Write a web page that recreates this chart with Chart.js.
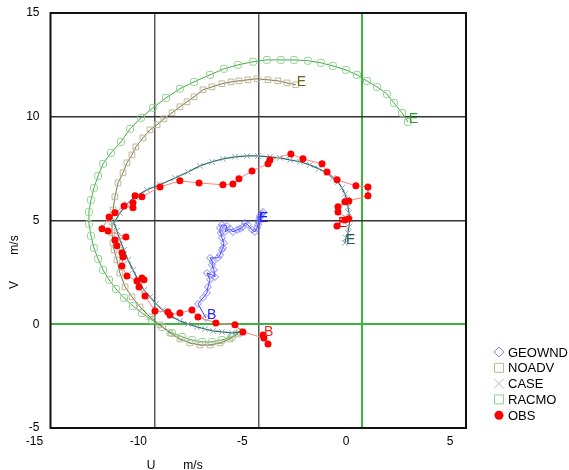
<!DOCTYPE html>
<html>
<head>
<meta charset="utf-8">
<script src="https://cdn.jsdelivr.net/npm/chart.js@4"></script>
<style>
  html, body { margin: 0; padding: 0; background: #fff; }
  #wrap { width: 569px; height: 470px; }
</style>
</head>
<body>
<div id="wrap"><canvas id="hodo" width="569" height="470"></canvas></div>
<script>
// wind components U, V (m/s)

const geoU = [-7.52, -7.90, -7.66, -7.47, -7.42, -7.32, -7.47, -7.23, -7.08, -7.13, -7.23, -7.18, -7.32, -6.94, -6.84, -6.75, -6.70, -6.65, -6.75, -6.80, -6.84, -6.75, -6.51, -6.60, -6.36, -6.22, -6.02, -5.88, -5.74, -5.64, -5.50, -5.30, -5.16, -5.06, -5.01, -4.97, -4.92, -4.82, -4.77, -4.92, -5.01];
const geoV = [0.30, 0.98, 1.27, 1.51, 1.80, 2.14, 2.47, 2.38, 2.28, 2.62, 2.86, 3.00, 3.20, 3.20, 3.34, 3.58, 3.68, 3.92, 4.16, 4.40, 4.64, 4.79, 4.74, 4.45, 4.60, 4.45, 4.55, 4.60, 4.69, 4.88, 4.79, 4.55, 4.45, 4.64, 4.79, 4.93, 5.13, 5.32, 5.41, 5.22, 4.98];

const noadvU = [-5.98, -6.36, -6.84, -7.32, -7.81, -8.29, -8.77, -9.25, -9.73, -10.21, -10.69, -11.08, -11.41, -11.66, -11.80, -11.94, -11.99, -12.04, -12.04, -11.99, -11.90, -11.75, -11.51, -11.32, -11.08, -10.89, -10.55, -10.21, -9.87, -9.54, -9.15, -8.77, -8.43, -8.09, -7.66, -7.23, -6.75, -6.31, -5.93, -5.50, -5.06, -4.53, -4.05, -3.62, -3.19];
const noadvV = [-0.47, -0.71, -0.90, -1.00, -1.00, -0.90, -0.71, -0.42, -0.03, 0.35, 0.83, 1.32, 1.80, 2.47, 3.10, 3.58, 3.92, 4.40, 4.93, 5.51, 6.14, 6.81, 7.30, 7.78, 8.16, 8.55, 8.98, 9.37, 9.61, 9.90, 10.19, 10.48, 10.72, 10.96, 11.30, 11.44, 11.59, 11.68, 11.73, 11.78, 11.83, 11.78, 11.73, 11.63, 11.54];

const caseU = [-5.78, -6.27, -6.75, -7.18, -7.56, -7.95, -8.38, -8.77, -9.20, -9.59, -9.92, -10.21, -10.50, -10.79, -11.03, -11.27, -11.46, -11.66, -11.80, -11.94, -11.66, -11.32, -10.93, -10.36, -9.73, -9.01, -8.38, -7.81, -7.23, -6.70, -6.12, -5.54, -5.01, -4.44, -3.96, -3.47, -2.99, -2.51, -2.08, -1.69, -1.41, -1.16, -0.97, -0.83, -0.73, -0.68, -0.64, -0.59, -0.64, -0.68, -0.78, -0.83];
const caseV = [-0.37, -0.42, -0.37, -0.32, -0.23, -0.13, 0.01, 0.16, 0.40, 0.69, 0.98, 1.32, 1.65, 2.14, 2.62, 3.10, 3.58, 4.06, 4.50, 4.88, 5.37, 5.80, 6.14, 6.48, 6.72, 7.05, 7.34, 7.63, 7.83, 7.97, 8.07, 8.11, 8.11, 8.07, 8.02, 7.92, 7.83, 7.68, 7.49, 7.30, 7.05, 6.86, 6.57, 6.28, 5.99, 5.66, 5.37, 5.03, 4.69, 4.40, 4.16, 3.92];

const racmoU = [-5.88, -6.27, -6.75, -7.23, -7.71, -8.19, -8.67, -9.15, -9.63, -10.12, -10.60, -11.03, -11.46, -11.85, -12.18, -12.47, -12.71, -12.91, -13.05, -13.15, -13.15, -13.05, -12.91, -12.71, -12.47, -12.09, -11.61, -11.17, -10.64, -10.07, -9.44, -8.77, -8.09, -7.32, -6.65, -5.98, -5.25, -4.58, -3.91, -3.28, -2.61, -1.98, -1.41, -0.78, -0.25, 0.23, 0.71, 1.19, 1.53, 1.92, 2.20];
const racmoV = [-0.37, -0.61, -0.76, -0.85, -0.85, -0.76, -0.61, -0.42, -0.13, 0.21, 0.54, 0.88, 1.27, 1.70, 2.14, 2.62, 3.15, 3.68, 4.26, 4.84, 5.41, 5.99, 6.57, 7.15, 7.73, 8.26, 8.79, 9.42, 9.95, 10.43, 10.91, 11.35, 11.68, 12.02, 12.31, 12.50, 12.65, 12.74, 12.74, 12.74, 12.70, 12.60, 12.45, 12.26, 12.02, 11.73, 11.44, 11.10, 10.67, 10.19, 9.75];

const obsU = [-4.77, -4.53, -4.73, -5.74, -6.12, -7.04, -7.90, -8.19, -8.77, -9.25, -9.35, -9.97, -10.45, -10.74, -10.50, -10.60, -10.84, -11.32, -11.56, -11.51, -11.56, -11.80, -11.90, -11.37, -12.23, -12.52, -12.18, -11.90, -11.46, -11.03, -11.03, -10.93, -10.60, -9.73, -8.77, -7.85, -6.70, -6.22, -5.93, -5.30, -4.53, -4.44, -3.43, -2.85, -1.93, -1.69, -1.21, -0.30, 0.28, 0.28, -0.83, -0.64, -1.16, -1.16, -0.64, -0.83, -1.21];
const obsV = [-0.52, -0.95, -0.66, -0.37, -0.03, 0.06, 0.35, 0.69, 0.54, 0.45, 0.59, 0.64, 1.36, 1.80, 2.14, 2.23, 2.09, 2.33, 2.81, 3.24, 3.44, 3.78, 4.06, 4.21, 4.50, 4.60, 5.17, 5.37, 5.70, 5.61, 5.85, 6.19, 6.14, 6.62, 6.91, 6.81, 6.72, 6.76, 7.01, 7.39, 7.73, 7.92, 8.21, 7.97, 7.73, 7.34, 6.96, 6.67, 6.62, 6.19, 5.90, 5.94, 5.66, 5.41, 5.08, 5.03, 4.74];

const seriesNames = ['GEOWND', 'NOADV', 'CASE', 'RACMO', 'OBS'];
const xTicks = [-15, -10, -5, 0, 5];
const yTicks = [-5, 0, 5, 10, 15];

const FONT = "'Liberation Sans', Arial, Helvetica, sans-serif";

function pts(u, v) {
  return u.map((x, i) => ({ x: x, y: v[i] }));
}

// begin / end tags next to the tracks
const tags = [
  { ds: 0, text: 'B', at: 'first', color: '#2424ff' },
  { ds: 0, text: 'E', at: 'last', color: '#1a1aff' },
  { ds: 1, text: 'E', at: 'last', color: '#6b6420' },
  { ds: 2, text: 'E', at: 'last', color: '#1f5a50' },
  { ds: 3, text: 'E', at: 'last', color: '#2ea02e' },
  { ds: 4, text: 'B', at: 'first', color: '#ff2020' },
  { ds: 4, text: 'E', at: 'last', color: '#ff0000' }
];

const legendItems = [
  { label: 'GEOWND', mark: 'diamond', color: '#8080ff' },
  { label: 'NOADV', mark: 'square', color: '#bdb89a' },
  { label: 'CASE', mark: 'cross', color: '#a8bec6' },
  { label: 'RACMO', mark: 'square', color: '#90d090' },
  { label: 'OBS', mark: 'dot', color: '#ff0000' }
];

const decor = {
  id: 'decor',
  afterDatasetsDraw(chart) {
    const ctx = chart.ctx;
    ctx.save();
    ctx.font = '14px ' + FONT;
    ctx.textAlign = 'left';
    ctx.textBaseline = 'alphabetic';
    tags.forEach(t => {
      const meta = chart.getDatasetMeta(t.ds);
      const el = t.at === 'first' ? meta.data[0] : meta.data[meta.data.length - 1];
      ctx.fillStyle = t.color;
      ctx.fillText(t.text, el.x + 1, el.y + 1);
    });
    ctx.restore();
  },
  afterDraw(chart) {
    const ctx = chart.ctx;
    const a = chart.chartArea;
    ctx.save();
    // frame
    ctx.strokeStyle = '#111';
    ctx.lineWidth = 2;
    ctx.strokeRect(a.left, a.top, a.right - a.left, a.bottom - a.top);

    // axis titles
    ctx.fillStyle = '#000';
    ctx.font = '12px ' + FONT;
    ctx.textAlign = 'center';
    ctx.textBaseline = 'middle';
    ctx.fillText('U', 151, 466);
    ctx.fillText('m/s', 193, 466);
    ctx.save();
    ctx.translate(15, 265);
    ctx.rotate(-Math.PI / 2);
    ctx.fillText('V', -20, 0);
    ctx.fillText('m/s', 20, 0);
    ctx.restore();

    // legend
    ctx.font = '13px ' + FONT;
    ctx.textAlign = 'left';
    legendItems.forEach((it, i) => {
      const x = 499, y = 352 + i * 15.8;
      ctx.strokeStyle = it.color;
      ctx.fillStyle = it.color;
      ctx.lineWidth = 1;
      ctx.beginPath();
      if (it.mark === 'diamond') {
        ctx.moveTo(x, y - 5); ctx.lineTo(x + 5, y); ctx.lineTo(x, y + 5); ctx.lineTo(x - 5, y); ctx.closePath();
        ctx.stroke();
      } else if (it.mark === 'square') {
        ctx.rect(x - 4.5, y - 4.5, 9, 9);
        ctx.stroke();
      } else if (it.mark === 'cross') {
        ctx.moveTo(x - 5, y - 5); ctx.lineTo(x + 5, y + 5);
        ctx.moveTo(x + 5, y - 5); ctx.lineTo(x - 5, y + 5);
        ctx.stroke();
      } else {
        ctx.arc(x, y, 4.5, 0, Math.PI * 2);
        ctx.fill();
      }
      ctx.fillStyle = '#000';
      ctx.fillText(it.label, 508, y + 1);
    });
    ctx.restore();
  }
};

function gridColor(c, zeroColor, lineColor) {
  const v = c.tick && c.tick.value;
  if (v === 0) return zeroColor;
  if (c.index === 0 || c.index === c.scale.ticks.length - 1) return 'rgba(0,0,0,0)';
  return lineColor;
}

// keep the plot box where the reference has it
function noPad(s) {
  s.paddingTop = 0;
  s.paddingBottom = 0;
  s.paddingLeft = 0;
  s.paddingRight = 0;
}

new Chart(document.getElementById('hodo'), {
  type: 'scatter',
  data: {
    datasets: [
      {
        label: seriesNames[0], data: pts(geoU, geoV), order: 1,
        showLine: true, borderColor: '#3c3cff', borderWidth: 1,
        pointStyle: 'rectRot', pointRadius: 3.5, pointBorderWidth: 1,
        pointBorderColor: 'rgba(100,100,255,0.8)', pointBackgroundColor: 'rgba(255,255,255,0)'
      },
      {
        label: seriesNames[1], data: pts(noadvU, noadvV), order: 3,
        showLine: true, borderColor: '#77703f', borderWidth: 1,
        pointStyle: 'rect', pointRadius: 4, pointBorderWidth: 1,
        pointBorderColor: '#bdb89a', pointBackgroundColor: 'rgba(255,255,255,0)'
      },
      {
        label: seriesNames[2], data: pts(caseU, caseV), order: 2,
        showLine: true, borderColor: '#2e6b6b', borderWidth: 1.2,
        pointStyle: 'crossRot', pointRadius: 4, pointBorderWidth: 1,
        pointBorderColor: '#88a8b2', pointBackgroundColor: 'rgba(255,255,255,0)'
      },
      {
        label: seriesNames[3], data: pts(racmoU, racmoV), order: 4,
        showLine: true, borderColor: '#3fae3f', borderWidth: 1,
        pointStyle: 'rectRounded', pointRadius: 4, pointBorderWidth: 1,
        pointBorderColor: '#90d090', pointBackgroundColor: 'rgba(255,255,255,0)'
      },
      {
        label: seriesNames[4], data: pts(obsU, obsV), order: 0,
        showLine: true, borderColor: '#ff8080', borderWidth: 1,
        pointStyle: 'circle', pointRadius: 3.5, pointBorderWidth: 0,
        pointBackgroundColor: '#ff0000', pointBorderColor: '#ff0000'
      }
    ]
  },
  options: {
    responsive: false,
    animation: false,
    layout: { padding: { left: 0, top: 13, right: 103, bottom: 0 } },
    plugins: {
      legend: { display: false },
      tooltip: { enabled: false }
    },
    scales: {
      x: {
        type: 'linear',
        min: xTicks[0], max: xTicks[xTicks.length - 1],
        afterFit(s) { s.height = 42; noPad(s); },
        afterBuildTicks(s) { s.ticks = xTicks.map(v => ({ value: v })); },
        border: { display: false },
        grid: {
          drawTicks: false,
          color: c => gridColor(c, '#3cb43c', '#5a5a5a'),
          lineWidth: c => (c.tick && c.tick.value === 0 ? 2 : 1.5)
        },
        ticks: {
          color: '#000', font: { size: 12, family: FONT },
          padding: 6, labelOffset: -16, maxRotation: 0
        }
      },
      y: {
        type: 'linear',
        min: yTicks[0], max: yTicks[yTicks.length - 1],
        afterFit(s) { s.width = 50.5; noPad(s); },
        afterBuildTicks(s) { s.ticks = yTicks.map(v => ({ value: v })); },
        border: { display: false },
        grid: {
          drawTicks: false,
          color: c => gridColor(c, '#3cb43c', '#333'),
          lineWidth: c => (c.tick && c.tick.value === 0 ? 2 : 1.5)
        },
        ticks: {
          color: '#000', font: { size: 12, family: FONT },
          padding: 11
        }
      }
    }
  },
  plugins: [decor]
});
</script>
</body>
</html>
